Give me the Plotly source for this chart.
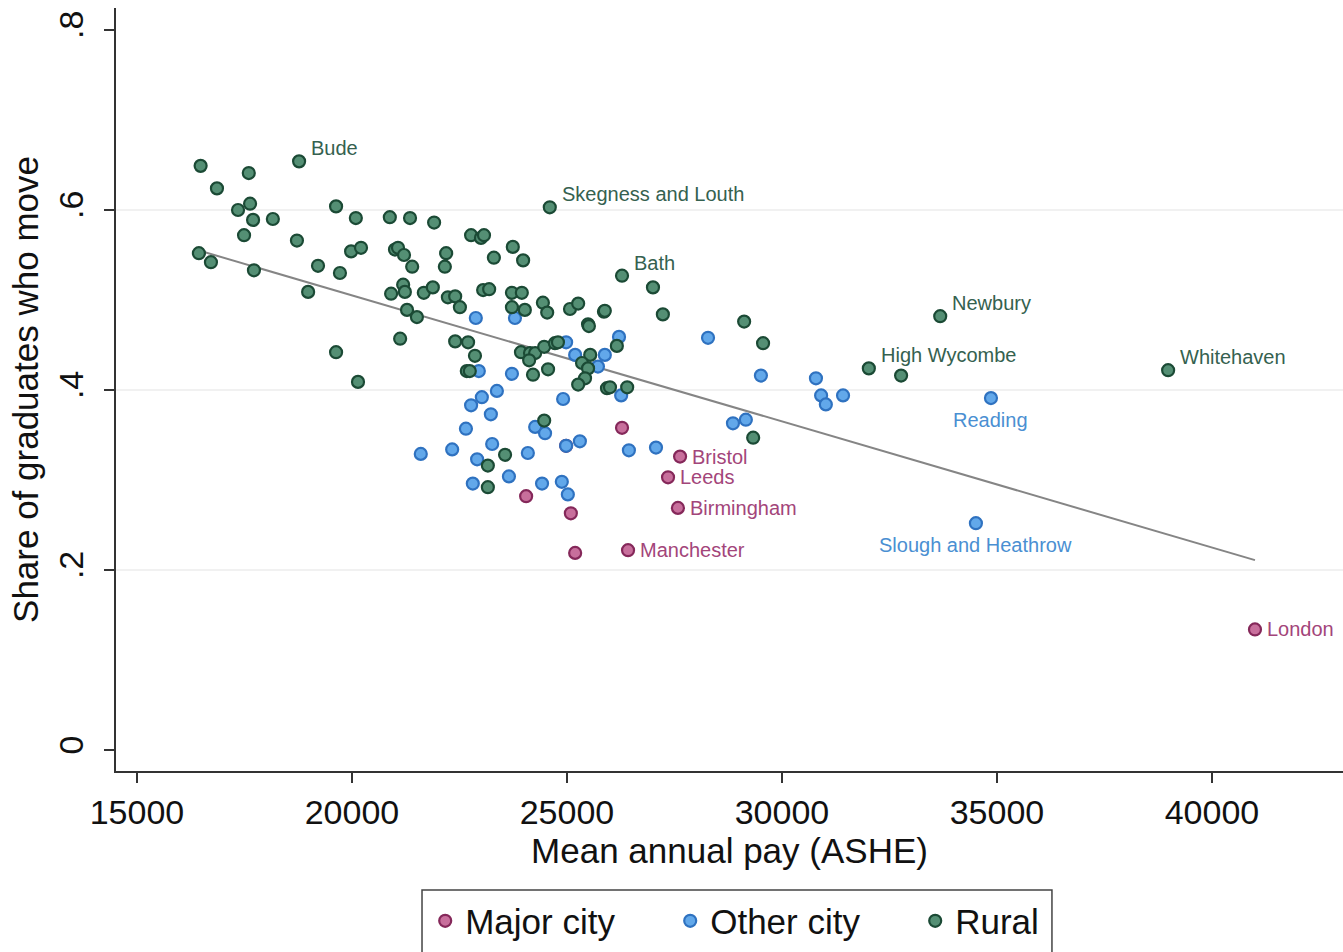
import plotly.graph_objects as go

# ---------------- data ----------------
rural_x = [16480, 17600, 16860, 17350, 17630, 17700, 18160, 17490, 19630, 20090,
           20880, 18720, 19980, 20210, 21000, 16440, 16720, 17720, 19210, 19720,
           18980, 20910, 19630, 20140, 21120, 21350, 21910, 22770, 23000, 23070,
           21070, 21210, 22190, 22160, 23300, 23740, 23980, 21400, 21190, 21230,
           21670, 21880, 22230, 22400, 22510, 23050, 23190, 23720, 23950, 23720,
           24020, 24440, 24540, 25070, 25260, 25860, 25490, 21280, 21510, 22400,
           22700, 22860, 22670, 22740, 23930, 24140, 24260, 24120, 24470, 24720,
           24790, 24210, 24560, 25510, 25540, 25350, 25490, 25420, 25260, 25930,
           24470, 23560, 23160, 23160, 27000, 25880, 27230, 29120, 29560, 26160,
           26000, 26400, 29330, 32770]
rural_y = [0.649, 0.641, 0.624, 0.600, 0.607, 0.589, 0.590, 0.572, 0.604, 0.591,
           0.592, 0.566, 0.554, 0.558, 0.556, 0.552, 0.542, 0.533, 0.538, 0.530,
           0.509, 0.507, 0.442, 0.409, 0.457, 0.591, 0.586, 0.572, 0.569, 0.572,
           0.558, 0.550, 0.552, 0.537, 0.547, 0.559, 0.544, 0.537, 0.517, 0.509,
           0.508, 0.514, 0.503, 0.504, 0.492, 0.511, 0.512, 0.508, 0.508, 0.492,
           0.489, 0.497, 0.486, 0.490, 0.496, 0.487, 0.473, 0.489, 0.481, 0.454,
           0.453, 0.438, 0.421, 0.421, 0.442, 0.441, 0.441, 0.433, 0.448, 0.452,
           0.453, 0.417, 0.423, 0.471, 0.439, 0.430, 0.424, 0.413, 0.406, 0.402,
           0.366, 0.328, 0.316, 0.292, 0.514, 0.488, 0.484, 0.476, 0.452, 0.449,
           0.403, 0.403, 0.347, 0.416]

other_x = [22880, 23790, 24980, 25190, 25880, 25720, 26210, 23720, 22950, 23370,
           23020, 22770, 23230, 24910, 22650, 24260, 24490, 24980, 25300, 21600,
           22330, 23260, 22910, 24090, 23650, 22810, 24420, 24880, 25020, 28280,
           29510, 26260, 28860, 29160, 26440, 27070, 30790, 30910, 31020, 31420]
other_y = [0.480, 0.480, 0.453, 0.439, 0.439, 0.426, 0.459, 0.418, 0.421, 0.399,
           0.392, 0.383, 0.373, 0.390, 0.357, 0.359, 0.352, 0.338, 0.343, 0.329,
           0.334, 0.340, 0.323, 0.330, 0.304, 0.296, 0.296, 0.298, 0.284, 0.458,
           0.416, 0.394, 0.363, 0.367, 0.333, 0.336, 0.413, 0.394, 0.384, 0.394]

major_x = [24050, 25090, 25190, 26280, 24980]
major_y = [0.282, 0.263, 0.219, 0.358, 0.338]

named_places = ["Bude", "Skegness and Louth", "Bath", "Newbury", "High Wycombe",
                "Whitehaven", "Reading", "Slough and Heathrow", "Bristol", "Leeds",
                "Birmingham", "Manchester", "London"]
named_group = ["Rural", "Rural", "Rural", "Rural", "Rural", "Rural",
               "Other city", "Other city", "Major city", "Major city",
               "Major city", "Major city", "Major city"]
named_x = [18770, 24600, 26280, 33680, 32020, 38980, 34860, 34510,
           27630, 27350, 27580, 26420, 41000]
named_y = [0.654, 0.603, 0.527, 0.482, 0.424, 0.422, 0.391, 0.252,
           0.326, 0.303, 0.269, 0.222, 0.134]

fit_x = [16440, 41000]
fit_y = [0.555, 0.211]

x_ticks = [15000, 20000, 25000, 30000, 35000, 40000]
x_tick_text = ["15000", "20000", "25000", "30000", "35000", "40000"]
y_ticks = [0, 0.2, 0.4, 0.6, 0.8]
y_tick_text = ["0", ".2", ".4", ".6", ".8"]
grid_vals = [0.2, 0.4, 0.6]

# ---------------- styling ----------------
FONT = "Liberation Sans, Arial, sans-serif"
styles = {
    "Major city": dict(fill="#c86f9c", edge="#85285a", text="#a3457a"),
    "Other city": dict(fill="#62a8ea", edge="#2f72c0", text="#4a8fd2"),
    "Rural": dict(fill="#548f74", edge="#1b4a35", text="#35614f"),
}
label_pos = {
    "Bude": "ne", "Skegness and Louth": "ne", "Bath": "ne", "Newbury": "ne",
    "High Wycombe": "ne", "Whitehaven": "ne", "Reading": "s",
    "Slough and Heathrow": "s", "Bristol": "e", "Leeds": "e",
    "Birmingham": "e", "Manchester": "e", "London": "e",
}

groups = {
    "Major city": (major_x, major_y),
    "Other city": (other_x, other_y),
    "Rural": (rural_x, rural_y),
}

fig = go.Figure()

fig.add_trace(go.Scatter(x=fit_x, y=fit_y, mode="lines",
                         line=dict(color="#858585", width=2),
                         showlegend=False, hoverinfo="skip"))

for name, (gx, gy) in groups.items():
    xs = list(gx) + [x for x, g in zip(named_x, named_group) if g == name]
    ys = list(gy) + [y for y, g in zip(named_y, named_group) if g == name]
    st = styles[name]
    fig.add_trace(go.Scatter(
        x=xs, y=ys, mode="markers", name=name,
        marker=dict(size=12, color=st["fill"],
                    line=dict(color=st["edge"], width=2.2)),
    ))

annotations = []
for nm, g, x, y in zip(named_places, named_group, named_x, named_y):
    pos = label_pos[nm]
    a = dict(x=x, y=y, text=nm, showarrow=False,
             font=dict(family=FONT, size=20, color=styles[g]["text"]))
    if pos == "ne":
        a.update(xanchor="left", yanchor="middle", xshift=10, yshift=13)
    elif pos == "e":
        a.update(xanchor="left", yanchor="middle", xshift=10, yshift=0)
    else:
        a.update(xanchor="center", yanchor="middle", xshift=0, yshift=-22)
    annotations.append(a)

shapes = [dict(type="line", xref="paper", x0=0, x1=1, yref="y", y0=v, y1=v,
               line=dict(color="#ececec", width=1.5), layer="below")
          for v in grid_vals]
# frame around the legend (reference box is cut by the bottom edge)
shapes.append(dict(type="rect", xref="paper", yref="paper",
                   x0=0.2494, x1=0.7628, y0=-0.156, y1=-0.26,
                   line=dict(color="#444", width=1.5), fillcolor="rgba(0,0,0,0)"))

fig.update_layout(
    width=1343, height=952,
    margin=dict(l=116, r=0, t=8, b=181, autoexpand=False),
    paper_bgcolor="white", plot_bgcolor="white",
    font=dict(family=FONT, size=34, color="#222"),
    annotations=annotations, shapes=shapes,
    legend=dict(orientation="h", x=0.252, xanchor="left", y=-0.158,
                yanchor="top", borderwidth=0, bgcolor="rgba(0,0,0,0)",
                font=dict(size=35, color="#111"),
                entrywidth=200, entrywidthmode="pixels"),
    xaxis=dict(range=[14512, 43047], tickvals=x_ticks, ticktext=x_tick_text,
               ticks="outside", ticklen=10, tickwidth=1.5, tickcolor="#333",
               showline=True, linecolor="#333", linewidth=1.5,
               showgrid=False, zeroline=False,
               tickfont=dict(size=34, color="#111"),
               title=dict(text="Mean annual pay (ASHE)", standoff=6,
                          font=dict(size=35, color="#111"))),
    yaxis=dict(range=[-0.0233, 0.8244], tickvals=y_ticks, ticktext=y_tick_text,
               tickangle=-90, ticklabelstandoff=8,
               ticks="outside", ticklen=10, tickwidth=1.5, tickcolor="#333",
               showline=True, linecolor="#333", linewidth=1.5,
               showgrid=False, zeroline=False,
               tickfont=dict(size=34, color="#111"),
               title=dict(text="Share of graduates who move", standoff=2,
                          font=dict(size=35, color="#111"))),
)

fig.write_html("out.html", config={"displayModeBar": False},
               post_script="document.body.style.margin='0';")
